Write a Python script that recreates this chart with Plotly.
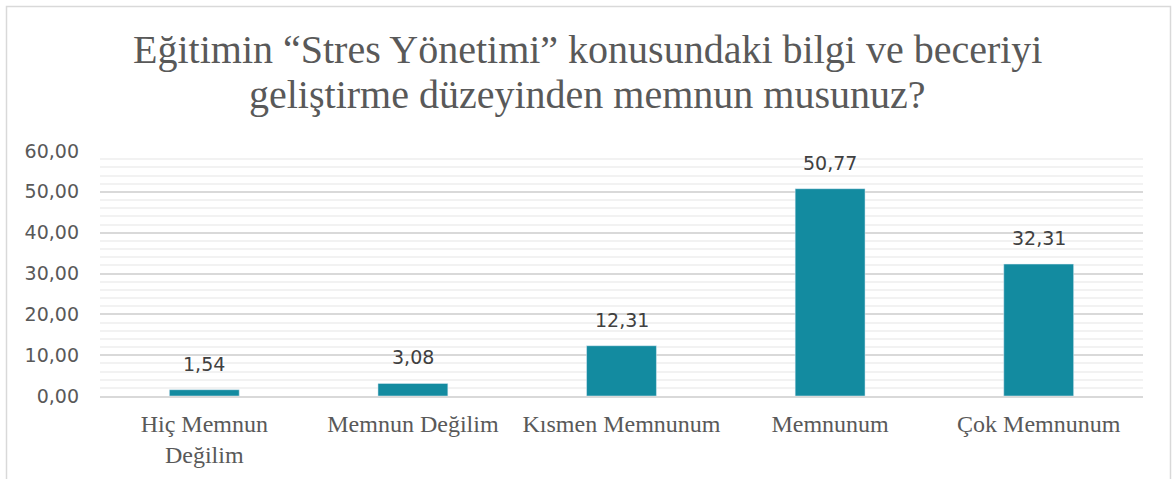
import plotly.graph_objects as go

categories = ["Hiç Memnun<br>Değilim", "Memnun Değilim", "Kısmen Memnunum", "Memnunum", "Çok Memnunum"]
values = [1.54, 3.08, 12.31, 50.77, 32.31]
y_ticks = [0, 10, 20, 30, 40, 50, 60]
title_lines = ["Eğitimin “Stres Yönetimi” konusundaki bilgi ve beceriyi",
               "geliştirme düzeyinden memnun musunuz?"]

BAR = "#138BA0"
W, H = 1175, 479
L, R, T, B = 100, 32, 151, 83
pw, ph = W - L - R, H - T - B

def fx(px):
    return (px - L) / pw

def fy(py):
    return (H - B - py) / ph

fig = go.Figure()
fig.add_trace(go.Bar(
    x=categories, y=values, marker_color=BAR, width=0.335,
    hoverinfo="skip",
))

for c, v in zip(categories, values):
    fig.add_annotation(
        x=c, y=v, text=f"{v:.2f}".replace(".", ","), showarrow=False,
        yanchor="bottom", yshift=13,
        font=dict(family="DejaVu Sans", size=19, color="#404040"),
    )

for line, py in zip(title_lines, [50, 94]):
    fig.add_annotation(
        x=fx(587.5), xref="paper", xanchor="center", y=fy(py), yref="paper",
        yanchor="middle", text=line, showarrow=False,
        font=dict(family="Liberation Serif", size=40, color="#595959"),
    )

fig.add_shape(type="rect", xref="paper", yref="paper",
              x0=fx(6.5), x1=fx(1170.5), y0=fy(495), y1=fy(6.5),
              line=dict(color="#d9d9d9", width=1.5), layer="below")

fig.update_layout(
    width=W, height=H,
    margin=dict(l=L, r=R, t=T, b=B),
    paper_bgcolor="white", plot_bgcolor="white",
    separators=",.",
    showlegend=False,
    bargap=0.665,
    xaxis=dict(showgrid=False, showline=True, linecolor="#d9d9d9", linewidth=1.5,
               ticks="", ticklabelstandoff=5,
               tickfont=dict(family="Liberation Serif", size=24, color="#595959")),
    yaxis=dict(range=[0, 60], tickvals=y_ticks, tickformat=".2f",
               showline=False, zeroline=False,
               gridcolor="#d9d9d9", gridwidth=1.5,
               minor=dict(dtick=2, showgrid=True, gridcolor="#f2f2f2", gridwidth=1.5),
               ticks="", ticklabelstandoff=20,
               tickfont=dict(family="DejaVu Sans", size=19, color="#595959")),
)

fig.write_html("out.html", config={"displayModeBar": False},
               post_script="document.body.style.margin='0';")
